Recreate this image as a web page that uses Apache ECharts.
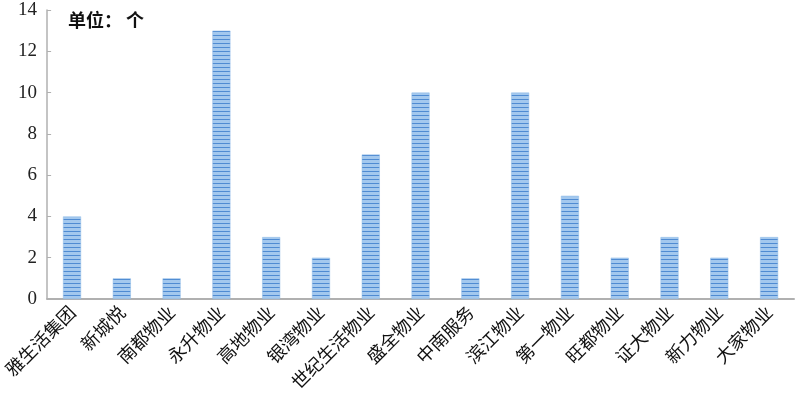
<!DOCTYPE html>
<html><head><meta charset="utf-8">
<script src="https://cdn.jsdelivr.net/npm/echarts@6/dist/echarts.min.js"></script>
<style>html,body{margin:0;padding:0;background:#fff}#c{width:799px;height:401px}</style>
</head><body><div id="c"></div>
<script>
var categories = ['雅生活集团','新城悦','南都物业','永升物业','高地物业','银湾物业','世纪生活物业','盛全物业','中南服务','滨江物业','第一物业','旺都物业','证大物业','新力物业','大家物业'];
var values = [4,1,1,13,3,2,7,10,1,10,5,2,3,2,3];
var yTicks = [0,2,4,6,8,10,12,14];

var cv = document.createElement('canvas');
cv.width = 4; cv.height = 4;
var ctx = cv.getContext('2d');
ctx.fillStyle = '#a3c8ee'; ctx.fillRect(0,0,4,4);
ctx.fillStyle = '#4f8bd2'; ctx.fillRect(0,3,4,1);

var chart = echarts.init(document.getElementById('c'));
chart.setOption({
  animation:false,
  title:{text:'单位： 个',left:63,top:6,textStyle:{fontSize:18,fontWeight:'bold',color:'#111',fontFamily:'Noto Sans CJK SC'}},
  grid:{left:44,right:5,top:10,bottom:102},
  xAxis:{type:'category',data:categories,
    axisLine:{lineStyle:{color:'#b0b0b0',width:2}},
    axisTick:{show:false},
    axisLabel:{rotate:45,interval:0,fontSize:18,color:'#111',fontFamily:'Noto Sans CJK SC',margin:10}},
  yAxis:{type:'value',min:0,max:14,interval:2,
    axisLine:{show:true,lineStyle:{color:'#b0b0b0',width:1.5}},
    axisTick:{show:true,inside:true,length:4,lineStyle:{color:'#b0b0b0'}},
    splitLine:{show:false},
    axisLabel:{fontSize:19,color:'#222',fontFamily:'Liberation Serif',margin:10,
      formatter:function(v){return yTicks.indexOf(v)>=0?String(v):'';}}},
  series:[{type:'bar',data:values,barWidth:18,
    itemStyle:{color:{image:cv,repeat:'repeat'},borderColor:'#8fbbe6',borderWidth:0.5}}]
});
</script></body></html>
